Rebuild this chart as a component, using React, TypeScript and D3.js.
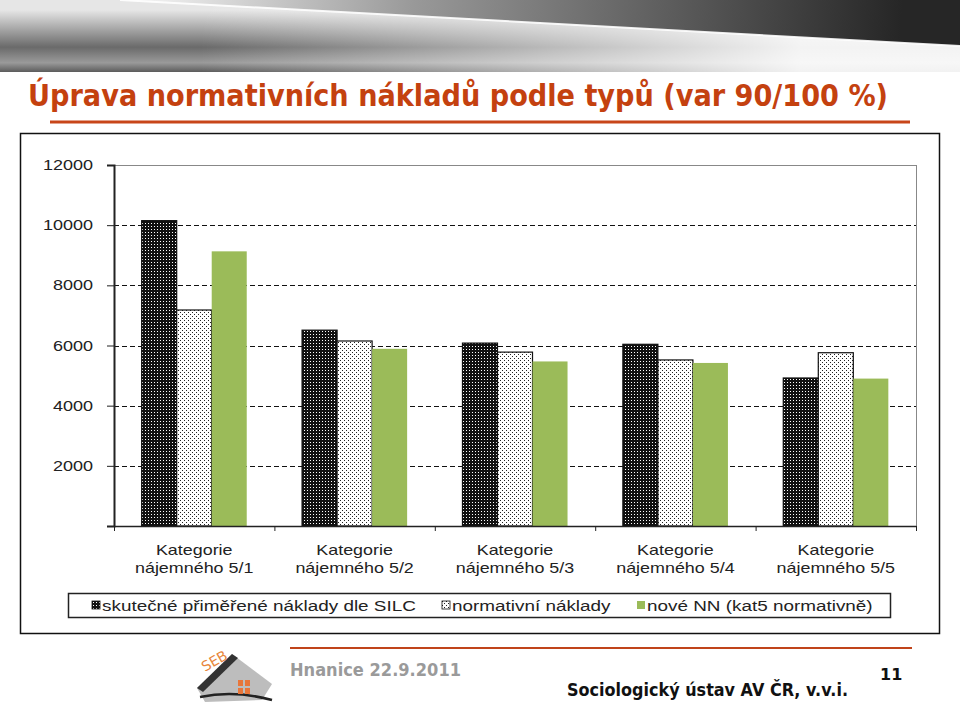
import { useEffect, useRef } from "react";
import * as d3 from "d3";

const categories = [
  "nájemného 5/1",
  "nájemného 5/2",
  "nájemného 5/3",
  "nájemného 5/4",
  "nájemného 5/5",
];
const seriesNames = [
  "skutečné přiměřené náklady dle SILC",
  "normativní náklady",
  "nové NN (kat5 normativně)",
];
const silcValues = [10150, 6510, 6080, 6040, 4920];
const normValues = [7180, 6150, 5780, 5520, 5760];
const newNNValues = [9130, 5890, 5470, 5420, 4900];
const yTicks = [2000, 4000, 6000, 8000, 10000, 12000];

export default function App() {
  const ref = useRef<SVGSVGElement | null>(null);

  useEffect(() => {
    if (!ref.current) return;
    const svg = d3.select(ref.current);
    svg.selectAll("*").remove();

    const W = 960;
    const H = 707;
    const sans = "'Liberation Sans', Arial, sans-serif";
    const tahoma = "'DejaVu Sans', Verdana, sans-serif";
    const stretch = 1.28;

    // defs: patterns and gradients
    const defs = svg.append("defs");
    const pDark = defs
      .append("pattern")
      .attr("id", "pDark")
      .attr("patternUnits", "userSpaceOnUse")
      .attr("width", 3)
      .attr("height", 3);
    pDark.append("rect").attr("width", 3).attr("height", 3).attr("fill", "#111");
    pDark.append("rect").attr("x", 1).attr("y", 1).attr("width", 1).attr("height", 1).attr("fill", "#fff");

    const pDot = defs
      .append("pattern")
      .attr("id", "pDot")
      .attr("patternUnits", "userSpaceOnUse")
      .attr("width", 4)
      .attr("height", 4);
    pDot.append("rect").attr("width", 4).attr("height", 4).attr("fill", "#fff");
    pDot.append("rect").attr("x", 0).attr("y", 0).attr("width", 1).attr("height", 1).attr("fill", "#222");
    pDot.append("rect").attr("x", 2).attr("y", 2).attr("width", 1).attr("height", 1).attr("fill", "#222");

    const g1 = defs
      .append("linearGradient")
      .attr("id", "hdrUp")
      .attr("gradientUnits", "userSpaceOnUse")
      .attr("x1", 150).attr("y1", 0).attr("x2", 900).attr("y2", 45);
    g1.append("stop").attr("offset", 0).attr("stop-color", "#f0f0f0");
    g1.append("stop").attr("offset", 0.35).attr("stop-color", "#999");
    g1.append("stop").attr("offset", 1).attr("stop-color", "#262626");

    const g2 = defs
      .append("linearGradient")
      .attr("id", "hdrLow")
      .attr("gradientUnits", "userSpaceOnUse")
      .attr("x1", 0).attr("y1", 10).attr("x2", 0).attr("y2", 72);
    g2.append("stop").attr("offset", 0).attr("stop-color", "#e6e6e6");
    g2.append("stop").attr("offset", 0.6).attr("stop-color", "#6a6a6a");
    g2.append("stop").attr("offset", 0.85).attr("stop-color", "#9a9a9a");
    g2.append("stop").attr("offset", 1).attr("stop-color", "#5c5c5c");

    const g3 = defs
      .append("linearGradient")
      .attr("id", "hdrFade")
      .attr("gradientUnits", "userSpaceOnUse")
      .attr("x1", 200).attr("y1", 0).attr("x2", 800).attr("y2", 0);
    g3.append("stop").attr("offset", 0).attr("stop-color", "#fff").attr("stop-opacity", 0);
    g3.append("stop").attr("offset", 1).attr("stop-color", "#fff").attr("stop-opacity", 0.92);

    svg.append("rect").attr("width", W).attr("height", H).attr("fill", "#fff");

    // header band
    svg.append("rect").attr("x", 0).attr("y", 0).attr("width", W).attr("height", 72).attr("fill", "url(#hdrLow)");
    svg
      .append("polygon")
      .attr("points", "0,0 960,0 960,72 0,72")
      .attr("fill", "url(#hdrFade)");
    svg
      .append("polygon")
      .attr("points", "120,0 960,0 960,46")
      .attr("fill", "url(#hdrUp)");
    svg
      .append("line")
      .attr("x1", 120).attr("y1", 0).attr("x2", 960).attr("y2", 46)
      .attr("stroke", "#fff").attr("stroke-width", 2).attr("opacity", 0.9);

    // title (drawn smaller, then stretched vertically, so it stays in the frame)
    svg
      .append("g")
      .attr("transform", "translate(28,106) scale(1,1.28)")
      .append("text")
      .attr("font-family", tahoma)
      .attr("font-weight", "bold")
      .attr("font-size", 24)
      .attr("textLength", 860)
      .attr("lengthAdjust", "spacingAndGlyphs")
      .attr("fill", "#c4410f")
      .text("Úprava normativních nákladů podle typů (var 90/100 %)");
    svg
      .append("line")
      .attr("x1", 50).attr("x2", 910).attr("y1", 122).attr("y2", 122)
      .attr("stroke", "#c8461a").attr("stroke-width", 3);

    // chart frame
    svg
      .append("rect")
      .attr("x", 20.5).attr("y", 133.5).attr("width", 919).attr("height", 500)
      .attr("fill", "#fff").attr("stroke", "#111").attr("stroke-width", 1.5);

    const left = 114;
    const right = 916;
    const top = 165;
    const bottom = 526;

    const x0 = d3.scaleBand<string>().domain(categories).range([left, right]).padding(0);
    const x1 = d3
      .scaleBand<number>()
      .domain([0, 1, 2])
      .range([0, x0.bandwidth()])
      .paddingInner(0)
      .paddingOuter(0.79);
    const y = d3.scaleLinear().domain([0, 12000]).range([bottom, top]);

    const plot = svg.append("g");

    // gridlines
    plot
      .selectAll("line.grid")
      .data(yTicks)
      .join("line")
      .attr("class", "grid")
      .attr("x1", left)
      .attr("x2", right)
      .attr("y1", (d) => Math.round(y(d)) + 0.5)
      .attr("y2", (d) => Math.round(y(d)) + 0.5)
      .attr("stroke", (d) => (d === 12000 ? "#888" : "#111"))
      .attr("stroke-width", 1)
      .attr("stroke-dasharray", (d) => (d === 12000 ? null : "5,3"));

    plot
      .append("line")
      .attr("x1", right + 0.5).attr("x2", right + 0.5)
      .attr("y1", y(12000)).attr("y2", bottom)
      .attr("stroke", "#888");

    // bars
    const series = [
      { values: silcValues, fill: "url(#pDark)", stroke: "#111" },
      { values: normValues, fill: "url(#pDot)", stroke: "#111" },
      { values: newNNValues, fill: "#9bbb59", stroke: "none" },
    ];
    const rows = categories.flatMap((c, ci) =>
      series.map((s, si) => ({ c, si, v: s.values[ci], fill: s.fill, stroke: s.stroke }))
    );
    plot
      .selectAll("rect.bar")
      .data(rows)
      .join("rect")
      .attr("class", "bar")
      .attr("x", (d) => (x0(d.c) ?? 0) + (x1(d.si) ?? 0))
      .attr("y", (d) => y(d.v))
      .attr("width", x1.bandwidth())
      .attr("height", (d) => bottom - y(d.v))
      .attr("fill", (d) => d.fill)
      .attr("stroke", (d) => d.stroke)
      .attr("stroke-width", 1.2);

    // axes
    const yAxis = plot
      .append("g")
      .attr("transform", `translate(${left},0)`)
      .call(d3.axisLeft(y).tickValues([0, ...yTicks]).tickSize(7).tickFormat(() => ""));
    yAxis.select(".domain").attr("stroke", "#222").attr("stroke-width", 2);
    yAxis.selectAll(".tick line").attr("stroke", "#222");

    yTicks.forEach((t) => {
      plot
        .append("g")
        .attr("transform", `translate(93,${y(t) + 5}) scale(1.2,1)`)
        .append("text")
        .attr("text-anchor", "end")
        .attr("font-family", sans)
        .attr("font-size", 15)
        .attr("fill", "#222")
        .text(String(t));
    });

    const xAxis = plot
      .append("g")
      .attr("transform", `translate(0,${bottom})`)
      .call(
        d3
          .axisBottom(d3.scaleLinear().domain([0, 5]).range([left, right]))
          .tickValues([0, 1, 2, 3, 4, 5])
          .tickSize(5)
          .tickSizeOuter(0)
          .tickFormat(() => "")
      );
    xAxis.select(".domain").attr("stroke", "#222").attr("stroke-width", 1.5);
    xAxis.selectAll(".tick line").attr("stroke", "#222");

    categories.forEach((c) => {
      const cx = (x0(c) ?? 0) + x0.bandwidth() / 2;
      const lab = plot.append("g").attr("transform", `translate(${cx},0) scale(${stretch},1)`);
      lab
        .append("text")
        .attr("y", 555)
        .attr("text-anchor", "middle")
        .attr("font-family", sans)
        .attr("font-size", 14)
        .attr("fill", "#222")
        .text("Kategorie");
      lab
        .append("text")
        .attr("y", 573)
        .attr("text-anchor", "middle")
        .attr("font-family", sans)
        .attr("font-size", 14)
        .attr("fill", "#222")
        .text(c);
    });

    // legend
    svg
      .append("rect")
      .attr("x", 68.5).attr("y", 593.5).attr("width", 822).attr("height", 24)
      .attr("fill", "#fff").attr("stroke", "#222").attr("stroke-width", 1.5);
    const legendX = [92, 442, 637];
    series.forEach((s, i) => {
      const lg = svg.append("g").attr("transform", `translate(${legendX[i]},601)`);
      lg.append("rect")
        .attr("width", 8).attr("height", 8)
        .attr("fill", s.fill)
        .attr("stroke", s.stroke === "none" ? "none" : "#111")
        .attr("stroke-width", 0.8);
      lg.append("g")
        .attr("transform", `translate(10,10) scale(1.26,1)`)
        .append("text")
        .attr("font-family", sans)
        .attr("font-size", 15)
        .attr("fill", "#222")
        .text(seriesNames[i]);
    });

    // footer
    svg
      .append("line")
      .attr("x1", 290).attr("x2", 912).attr("y1", 648).attr("y2", 648)
      .attr("stroke", "#c0441a").attr("stroke-width", 2);
    svg
      .append("text")
      .attr("x", 290).attr("y", 676)
      .attr("font-family", tahoma).attr("font-weight", "bold").attr("font-size", 17)
      .attr("textLength", 171).attr("lengthAdjust", "spacingAndGlyphs")
      .attr("fill", "#9a9a9a")
      .text("Hnanice 22.9.2011");
    svg
      .append("text")
      .attr("x", 880).attr("y", 680)
      .attr("font-family", tahoma).attr("font-weight", "bold").attr("font-size", 16)
      .attr("fill", "#111")
      .text("11");
    svg
      .append("text")
      .attr("x", 567).attr("y", 696)
      .attr("font-family", tahoma).attr("font-weight", "bold").attr("font-size", 17)
      .attr("textLength", 281).attr("lengthAdjust", "spacingAndGlyphs")
      .attr("fill", "#111")
      .text("Sociologický ústav AV ČR, v.v.i.");

    // logo (rough)
    const logo = svg.append("g");
    logo
      .append("polygon")
      .attr("points", "197,688 232,654 272,684 262,700 205,702")
      .attr("fill", "#bdbdbd");
    logo
      .append("polygon")
      .attr("points", "197,688 232,654 238,658 203,692")
      .attr("fill", "#333");
    logo
      .append("path")
      .attr("d", "M200,697 Q235,690 272,700")
      .attr("fill", "none").attr("stroke", "#222").attr("stroke-width", 2.5);
    logo
      .append("text")
      .attr("transform", "translate(205,672) rotate(-30)")
      .attr("font-family", tahoma).attr("font-size", 14)
      .attr("fill", "#e8863a")
      .text("SEB");
    [[238, 680], [245, 680], [238, 688], [245, 688]].forEach(([px, py]) => {
      logo.append("rect").attr("x", px).attr("y", py).attr("width", 5).attr("height", 6).attr("fill", "#e8763a");
    });
  }, []);

  return (
    <svg
      ref={ref}
      width={960}
      height={707}
      style={{ position: "absolute", left: 0, top: 0, display: "block" }}
    />
  );
}
